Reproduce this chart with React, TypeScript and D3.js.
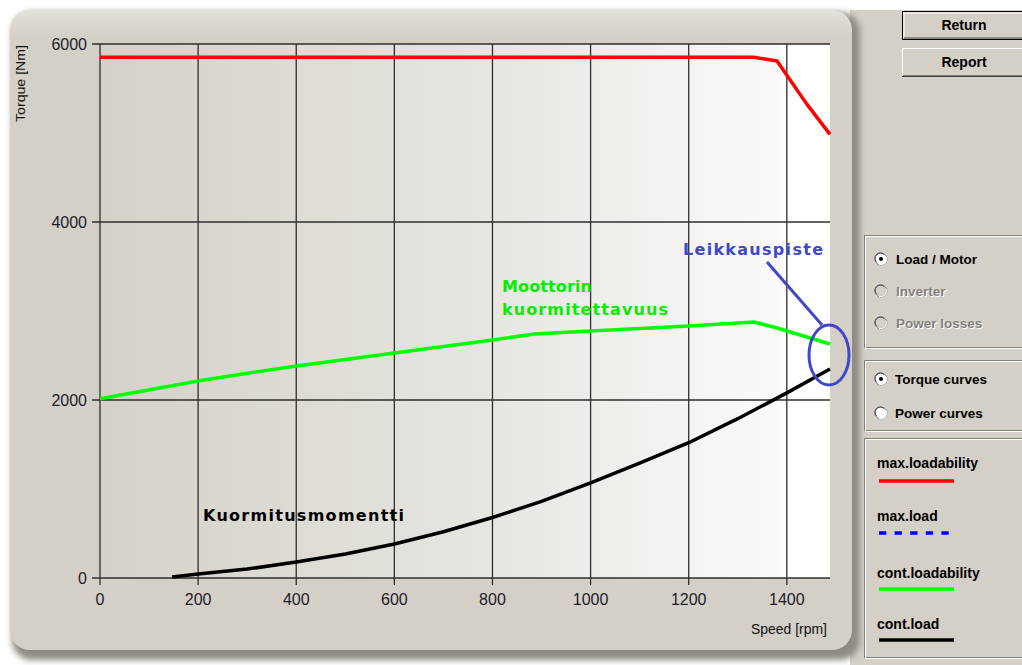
import React from "react";
import * as d3 from "d3";

// ---- data ----
const speedTicks = [0, 200, 400, 600, 800, 1000, 1200, 1400];
const torqueTicks = [0, 2000, 4000, 6000];
const speedMax = 1488;
const torqueMax = 6000;

const maxLoadabilitySpeed = [0, 1333, 1380, 1440, 1488];
const maxLoadabilityTorque = [5850, 5850, 5810, 5330, 4985];

const contLoadabilitySpeed = [0, 200, 300, 400, 600, 800, 885, 1000, 1200, 1333, 1380, 1488];
const contLoadabilityTorque = [2015, 2213, 2300, 2382, 2528, 2674, 2742, 2775, 2831, 2876, 2809, 2629];

const contLoadSpeed = [147, 200, 300, 400, 500, 600, 700, 800, 900, 1000, 1100, 1200, 1300, 1400, 1488];
const contLoadTorque = [10, 45, 100, 180, 270, 382, 520, 680, 860, 1070, 1290, 1520, 1790, 2080, 2348];

const legendLabels = ["max.loadability", "max.load", "cont.loadability", "cont.load"];
const legendColors = ["#ff0000", "#0000ff", "#00ff00", "#000000"];
const viewOptions = ["Load / Motor", "Inverter", "Power losses"];
const curveOptions = ["Torque curves", "Power curves"];

const FONT = "'Liberation Sans', Arial, sans-serif";
const ANNOT = "'DejaVu Sans', Verdana, sans-serif";

function Radio({ cx, cy, checked, disabled }: { cx: number; cy: number; checked: boolean; disabled: boolean }) {
  return (
    <g>
      <circle cx={cx} cy={cy} r={6} fill={disabled ? "#d4d0c8" : "#ffffff"} stroke="#808080" strokeWidth={1} />
      <path d={`M ${cx - 4.5} ${cy + 3} A 5 5 0 0 1 ${cx + 3} ${cy - 4.5}`} fill="none" stroke="#404040" strokeWidth={1} />
      <path d={`M ${cx + 5.5} ${cy - 2} A 6 6 0 0 1 ${cx - 2} ${cy + 5.5}`} fill="none" stroke="#ffffff" strokeWidth={1} />
      {checked && <circle cx={cx} cy={cy} r={2} fill="#000" />}
    </g>
  );
}

function GroupBox({ x, y, w, h }: { x: number; y: number; w: number; h: number }) {
  return (
    <g>
      <rect x={x + 0.5} y={y + 0.5} width={w} height={h} fill="none" stroke="#808080" />
      <rect x={x + 1.5} y={y + 1.5} width={w} height={h} fill="none" stroke="#ffffff" />
    </g>
  );
}

export default function App() {
  const x = d3.scaleLinear().domain([0, speedMax]).range([100, 830]);
  const y = d3.scaleLinear().domain([0, torqueMax]).range([578, 44]);
  const line = d3
    .line<[number, number]>()
    .x((d) => x(d[0]))
    .y((d) => y(d[1]));
  const zip = (a: number[], b: number[]) => a.map((v, i) => [v, b[i]] as [number, number]);

  const red = line(zip(maxLoadabilitySpeed, maxLoadabilityTorque)) || "";
  const green = line(zip(contLoadabilitySpeed, contLoadabilityTorque)) || "";
  const black = line(zip(contLoadSpeed, contLoadTorque)) || "";

  const left = x(0);
  const right = x(speedMax);

  return (
    <svg
      width={1022}
      height={665}
      style={{ position: "fixed", left: 0, top: 0, display: "block" }}
      fontFamily={FONT}
    >
      <defs>
        <linearGradient id="plotbg" gradientUnits="userSpaceOnUse" x1={left} x2={right} y1={0} y2={0}>
          <stop offset="0" stopColor="#d5d1c9" />
          <stop offset="0.5" stopColor="#e6e4df" />
          <stop offset="0.93" stopColor="#fbfaf9" />
          <stop offset="0.94" stopColor="#ffffff" />
          <stop offset="1" stopColor="#ffffff" />
        </linearGradient>
        <filter id="shadow" x="-5%" y="-5%" width="110%" height="110%">
          <feGaussianBlur stdDeviation="3" />
        </filter>
        <linearGradient id="paneltop" x1="0" x2="0" y1="0" y2="1">
          <stop offset="0" stopColor="#e4e1db" />
          <stop offset="0.04" stopColor="#d4d0c8" />
          <stop offset="1" stopColor="#d4d0c8" />
        </linearGradient>
      </defs>

      <rect x={0} y={0} width={1022} height={665} fill="#ffffff" />
      {/* window background on the right */}
      <rect x={850} y={10} width={172} height={655} fill="#d4d0c8" />

      {/* chart panel */}
      <rect x={12} y={12} width={848} height={648} rx={20} fill="#8f8b83" filter="url(#shadow)" />
      <rect x={10} y={10} width={842} height={640} rx={20} fill="url(#paneltop)" />

      {/* plot background */}
      <rect x={left} y={y(torqueMax)} width={right - left} height={y(0) - y(torqueMax)} fill="url(#plotbg)" />

      {/* grid */}
      {speedTicks.map((t) => (
        <line key={"vx" + t} x1={x(t)} x2={x(t)} y1={y(torqueMax)} y2={y(0) + 7} stroke="#2e2e2e" strokeWidth={1.3} />
      ))}
      {torqueTicks.map((t) => (
        <line key={"hy" + t} x1={left - 8} x2={right} y1={y(t)} y2={y(t)} stroke="#2e2e2e" strokeWidth={1.3} />
      ))}

      {/* tick labels */}
      {speedTicks.map((t) => (
        <text key={"lx" + t} x={x(t)} y={605} textAnchor="middle" fontSize={16} fill="#1c1c2c">
          {t}
        </text>
      ))}
      {torqueTicks.map((t) => (
        <text key={"ly" + t} x={87} y={y(t) + 5.5} textAnchor="end" fontSize={16} fill="#1c1c2c">
          {t}
        </text>
      ))}

      {/* axis titles */}
      <text
        x={0}
        y={0}
        transform="translate(25,83.5) rotate(-90)"
        textAnchor="middle"
        fontSize={13}
        fill="#111"
        textLength={77}
        lengthAdjust="spacingAndGlyphs"
      >
        Torque [Nm]
      </text>
      <text x={751} y={634} fontSize={14} fill="#111" textLength={76} lengthAdjust="spacingAndGlyphs">
        Speed [rpm]
      </text>

      {/* curves */}
      <path d={red} fill="none" stroke="#ff0000" strokeWidth={3.5} strokeLinejoin="round" />
      <path d={green} fill="none" stroke="#00ff00" strokeWidth={3.5} strokeLinejoin="round" />
      <path d={black} fill="none" stroke="#000000" strokeWidth={3.5} strokeLinejoin="round" />

      {/* annotations */}
      <g fontFamily={ANNOT} fontWeight="bold" fontSize={16}>
        <text x={502} y={292} fill="#00f000" textLength={90} lengthAdjust="spacing">
          Moottorin
        </text>
        <text x={502} y={315} fill="#00f000" textLength={166} lengthAdjust="spacing">
          kuormitettavuus
        </text>
        <text x={203} y={521} fill="#000" textLength={201} lengthAdjust="spacing">
          Kuormitusmomentti
        </text>
        <text x={683} y={255} fill="#4048c8" textLength={140} lengthAdjust="spacing">
          Leikkauspiste
        </text>
      </g>
      <line x1={767} y1={262} x2={822} y2={325} stroke="#4048c8" strokeWidth={3} />
      <ellipse cx={829} cy={355} rx={20} ry={30} fill="none" stroke="#4048c8" strokeWidth={3} />

      {/* buttons */}
      <g>
        <rect x={902.5} y={11.5} width={125} height={28} fill="#d4d0c8" stroke="#000" />
        <path d="M 904 38 V 13 H 1022" fill="none" stroke="#ffffff" />
        <path d="M 904 38 H 1022" fill="none" stroke="#404040" />
        <text x={964} y={30} textAnchor="middle" fontSize={14} fontWeight="bold" fill="#000">
          Return
        </text>
      </g>
      <g>
        <rect x={902} y={48} width={125} height={29} fill="#d4d0c8" />
        <path d="M 902.5 76 V 48.5 H 1022" fill="none" stroke="#ffffff" />
        <path d="M 902 76.5 H 1022" fill="none" stroke="#404040" />
        <path d="M 903 75.5 H 1022" fill="none" stroke="#808080" />
        <text x={964} y={67} textAnchor="middle" fontSize={14} fontWeight="bold" fill="#000">
          Report
        </text>
      </g>

      {/* option groups */}
      <GroupBox x={864} y={235} w={160} h={112} />
      {viewOptions.map((o, i) => {
        const cy = 259 + i * 32;
        const disabled = i > 0;
        return (
          <g key={o}>
            <Radio cx={881} cy={cy} checked={i === 0} disabled={disabled} />
            {disabled && (
              <text x={897} y={cy + 6} fontSize={13.5} fontWeight="bold" fill="#ffffff">
                {o}
              </text>
            )}
            <text x={896} y={cy + 5} fontSize={13.5} fontWeight="bold" fill={disabled ? "#808080" : "#000"}>
              {o}
            </text>
          </g>
        );
      })}

      <GroupBox x={864} y={360} w={160} h={70} />
      {curveOptions.map((o, i) => {
        const cy = 379 + i * 34;
        return (
          <g key={o}>
            <Radio cx={881} cy={cy} checked={i === 0} disabled={false} />
            <text x={895} y={cy + 5} fontSize={13.5} fontWeight="bold" fill="#000">
              {o}
            </text>
          </g>
        );
      })}

      <GroupBox x={864} y={438} w={160} h={219} />
      {legendLabels.map((l, i) => {
        const base = [468, 521, 578, 629][i];
        const ly = [481, 533, 589, 640][i];
        return (
          <g key={l}>
            <text x={877} y={base} fontSize={14} fontWeight="bold" fill="#000">
              {l}
            </text>
            <line
              x1={879}
              x2={954}
              y1={ly}
              y2={ly}
              stroke={legendColors[i]}
              strokeWidth={3.5}
              strokeDasharray={i === 1 ? "7.3 8.3" : undefined}
            />
          </g>
        );
      })}
    </svg>
  );
}
